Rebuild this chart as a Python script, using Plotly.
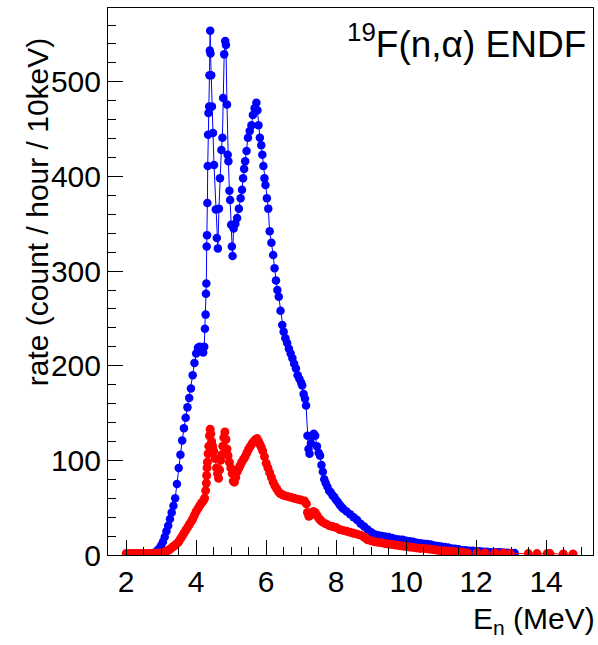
import plotly.graph_objects as go

# 19F(n,alpha) rate vs neutron energy
energy_blue = [2.0, 2.1, 2.2, 2.3, 2.4, 2.5, 2.6, 2.7, 2.8, 2.9, 2.95, 3.0, 3.05, 3.1, 3.15, 3.2, 3.25, 3.3,
               3.35, 3.4, 3.45, 3.5, 3.55, 3.6, 3.65, 3.7, 3.75, 3.8, 3.85, 3.9, 3.95, 4.0, 4.05, 4.1, 4.15,
               4.2, 4.23, 4.25, 4.27, 4.28, 4.29, 4.30, 4.31, 4.32, 4.33, 4.34, 4.35, 4.37, 4.38, 4.39, 4.40,
               4.41, 4.43, 4.45, 4.48, 4.51, 4.56, 4.59, 4.62, 4.65, 4.68, 4.72, 4.75, 4.77, 4.80, 4.83, 4.85,
               4.88, 4.90, 4.92, 4.95, 4.97, 5.00, 5.02, 5.04, 5.07, 5.12, 5.17, 5.22, 5.27, 5.31, 5.34, 5.37,
               5.40, 5.44, 5.48, 5.53, 5.58, 5.62, 5.67, 5.72, 5.75, 5.78, 5.82, 5.86, 5.89, 5.92, 5.95, 5.98,
               6.02, 6.06, 6.1, 6.15, 6.2, 6.24, 6.28, 6.32, 6.36, 6.41, 6.46, 6.5, 6.55, 6.6, 6.65, 6.7, 6.75,
               6.8, 6.85, 6.9, 6.95, 7.0, 7.03, 7.07, 7.11, 7.14, 7.18, 7.21, 7.24, 7.28, 7.32, 7.36, 7.4, 7.45,
               7.5, 7.54, 7.58, 7.62, 7.66, 7.7, 7.75, 7.8, 7.85, 7.9, 7.95, 8.0, 8.05, 8.1, 8.15, 8.2, 8.3, 8.4,
               8.5, 8.6, 8.7, 8.8, 8.9, 9.0, 9.1, 9.2, 9.3, 9.4, 9.5, 9.6, 9.7, 9.8, 9.9, 10.0, 10.1, 10.2, 10.3,
               10.4, 10.5, 10.6, 10.7, 10.8, 10.9, 11.0, 11.1, 11.2, 11.3, 11.4, 11.5, 11.6, 11.7, 11.8, 11.9,
               12.0, 12.1, 12.2, 12.3, 12.4, 12.5, 12.6, 12.7, 12.8, 12.9, 13.0, 13.1]
rate_blue = [0.5, 0.5, 0.5, 0.6, 0.7, 0.8, 1.0, 1.5, 2.5, 5, 7, 10, 14, 19, 25, 31, 38, 45,
             52, 60, 75, 92, 106, 121, 134, 145, 156, 166, 176, 190, 203, 213, 219, 220, 217,
             214, 220, 239, 254, 276, 287, 326, 338, 372, 411, 444, 467, 474, 507, 533, 554,
             530, 507, 474, 446, 412, 365, 335, 324, 366, 398, 428, 441, 483, 529, 543, 539,
             476, 423, 416, 385, 375, 349, 326, 316, 345, 350, 356, 366, 377, 386, 398, 408,
             416, 427, 441, 448, 454, 465, 472, 478, 470, 454, 441, 433, 423, 411, 398, 391,
             377, 366, 342, 330, 317, 303, 290, 280, 273, 258, 243, 236, 229, 224, 218, 213, 208,
             202, 197, 190, 186, 182, 179, 170, 165, 158, 126, 112, 107, 118, 126, 128, 126, 115,
             108, 105, 95, 88, 80, 76, 72, 68, 66, 63, 61, 58, 56, 53, 51, 49, 46, 43,
             40, 37, 33, 30, 27, 24, 22, 21, 20, 19.5, 19, 18, 17, 16.5, 16, 15, 14.5, 14, 13,
             12.5, 12, 11.5, 11, 10, 9.5, 9, 8.5, 8, 7, 6.5, 6, 5, 5, 4.5, 4.5,
             4, 4, 3.5, 3.5, 3, 3, 3, 3, 2.5, 2.5, 2, 2]

energy_red = [2.0, 2.1, 2.2, 2.3, 2.4, 2.5, 2.6, 2.7, 2.8, 2.9, 3.0, 3.1, 3.15, 3.2, 3.25, 3.3, 3.35, 3.4,
              3.45, 3.5, 3.55, 3.6, 3.65, 3.7, 3.75, 3.8, 3.85, 3.9, 3.95, 4.0, 4.05, 4.1, 4.15, 4.2, 4.24,
              4.27, 4.29, 4.3, 4.31, 4.32, 4.34, 4.36, 4.38, 4.40, 4.42, 4.44, 4.47, 4.5, 4.54, 4.58, 4.61,
              4.64, 4.67, 4.7, 4.73, 4.76, 4.79, 4.82, 4.85, 4.88, 4.91, 4.95, 4.99, 5.03, 5.06, 5.09, 5.13,
              5.17, 5.21, 5.25, 5.3, 5.35, 5.4, 5.45, 5.5, 5.55, 5.6, 5.65, 5.7, 5.74, 5.78, 5.82, 5.86, 5.9,
              5.95, 6.0, 6.05, 6.1, 6.15, 6.2, 6.25, 6.3, 6.35, 6.4, 6.45, 6.5, 6.6, 6.7, 6.8, 6.9, 7.0, 7.1,
              7.15, 7.18, 7.22, 7.26, 7.3, 7.35, 7.4, 7.45, 7.5, 7.55, 7.6, 7.7, 7.8, 7.9, 8.0, 8.1, 8.2, 8.3,
              8.4, 8.5, 8.6, 8.7, 8.8, 8.85, 8.9, 9.0, 9.1, 9.2, 9.3, 9.4, 9.5, 9.6, 9.7, 9.8, 9.9, 10.0, 10.1,
              10.2, 10.3, 10.4, 10.5, 10.6, 10.7, 10.8, 10.9, 11.0, 11.1, 11.2, 11.3, 11.4, 11.5, 11.6, 11.74,
              12.03, 12.26, 12.54, 12.77, 12.97, 13.49, 13.74, 14.03, 14.11, 14.49, 14.77]
rate_red = [1.5, 1.5, 1.5, 1.5, 1.5, 1.5, 1.5, 1.5, 1.8, 2, 2.5, 3, 4, 5, 6, 7.5, 9, 10.5,
            12, 14, 17, 20, 23, 26, 29, 32, 35, 38, 42, 46, 49, 52, 55, 57, 60,
            68, 76, 84, 92, 98, 107, 115, 126, 133, 128, 120, 115, 110, 102, 92, 86,
            81, 90, 100, 106, 115, 124, 130, 122, 112, 105, 98, 92, 86, 78, 77, 82,
            88, 91, 94, 98, 101, 104, 108, 112, 115, 118, 120, 122, 123, 120, 117, 114, 110,
            104, 97, 92, 87, 82, 77, 73, 70, 67, 65, 64, 63, 62, 61, 60, 59, 58, 57,
            54, 45, 41, 42, 44, 46, 45, 42, 39, 37, 35, 33, 31, 30, 29, 27, 26, 25,
            24, 23, 22, 21, 19, 18, 16, 15, 14, 13.5, 13, 12, 11.5, 11, 10.5, 10, 9.5, 9, 8.5,
            8, 7.5, 7, 7, 6.5, 6, 5.5, 5, 4.5, 4.5, 4, 4, 3.5, 3.5, 3, 2.5,
            2.5, 2, 2, 2, 1.5, 1.5, 1.5, 1.5, 1.5, 1, 1]

FONT = "Liberation Sans, Arial, Helvetica, sans-serif"

fig = go.Figure()
fig.add_trace(go.Scatter(
    x=energy_blue, y=rate_blue, mode="lines+markers",
    line=dict(color="#0000ff", width=1),
    marker=dict(color="#0000ff", size=8.5, line=dict(width=0)),
    showlegend=False
))
fig.add_trace(go.Scatter(
    x=energy_red, y=rate_red, mode="lines+markers",
    line=dict(color="#ff0000", width=1),
    marker=dict(color="#ff0000", size=9, line=dict(width=0)),
    showlegend=False
))

fig.update_xaxes(
    range=[1.48, 15.34], tickvals=[2, 4, 6, 8, 10, 12, 14],
    ticks="inside", ticklen=15, tickwidth=1, tickcolor="black",
    minor=dict(dtick=0.5, tick0=0, ticks="inside", ticklen=8, tickcolor="black"),
    showline=True, linecolor="black", linewidth=1, mirror=True,
    showgrid=False, zeroline=False,
    tickfont=dict(family=FONT, size=30, color="black")
)
fig.update_yaxes(
    range=[0, 578], tickvals=[0, 100, 200, 300, 400, 500],
    ticks="inside", ticklen=15, tickwidth=1, tickcolor="black",
    minor=dict(dtick=20, tick0=0, ticks="inside", ticklen=8, tickcolor="black"),
    showline=True, linecolor="black", linewidth=1, mirror=True,
    showgrid=False, zeroline=False,
    tickfont=dict(family=FONT, size=30, color="black")
)

fig.update_layout(
    width=598, height=645,
    margin=dict(l=108, r=5, t=8, b=90),
    paper_bgcolor="white", plot_bgcolor="white",
    font=dict(family=FONT, color="black"),
    annotations=[
        dict(text="rate (count / hour / 10keV)", textangle=-90,
             xref="paper", yref="paper", x=-0.146, y=0.627,
             xanchor="center", yanchor="middle", showarrow=False,
             font=dict(family=FONT, size=30)),
        dict(text="E<sub>n</sub> (MeV)",
             xref="paper", yref="paper", x=1.008, y=-0.12,
             xanchor="right", yanchor="middle", showarrow=False,
             font=dict(family=FONT, size=30)),
        dict(text="<sup>19</sup>F(n,α) ENDF",
             xref="paper", yref="paper", x=0.99, y=0.985,
             xanchor="right", yanchor="top", showarrow=False,
             font=dict(family=FONT, size=37)),
    ]
)

# drop the page's default body margin so the figure sits at the window's corner
fig.write_html("out.html",
               config={"displayModeBar": False},
               post_script="document.body.style.margin='0';document.body.style.overflow='hidden';")
